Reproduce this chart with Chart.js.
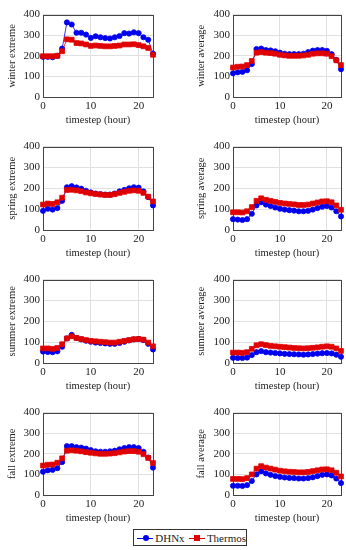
<!DOCTYPE html>
<html>
<head>
<meta charset="utf-8">
<script src="https://cdn.jsdelivr.net/npm/chart.js@4.4.0/dist/chart.umd.min.js"></script>
<style>
  body { margin: 0; background: #fff; width: 346px; height: 550px; position: relative; overflow: hidden; }
  canvas { position: absolute; }
  #legend {
    position: absolute; left: 133px; top: 529px; width: 112px; height: 15px;
    border: 1px solid #333; font: 11px "Liberation Serif", serif; color: #222;
    display: flex; align-items: center; white-space: nowrap;
  }
  .icon { position: relative; display: inline-block; width: 17px; height: 10px; margin: 0 2px 0 3px; }
  .icon .ln { position: absolute; left: 0; right: 0; top: 5px; height: 1px; }
  .icon .mk { position: absolute; left: 5.5px; top: 2px; width: 6px; height: 6px; }
</style>
</head>
<body>
<div id="legend">
  <span class="icon"><span class="ln" style="background:#0000ee"></span><span class="mk" style="background:#0000ee;border-radius:50%"></span></span>DHNx
  <span class="icon" style="margin-left:4px"><span class="ln" style="background:#e00000"></span><span class="mk" style="background:#e00000"></span></span>Thermos
</div>
<script>
const hours = [0,1,2,3,4,5,6,7,8,9,10,11,12,13,14,15,16,17,18,19,20,21,22,23];
const xTicks = [0, 10, 20];
const yTicks = [0, 100, 200, 300, 400];

const panelTitles = ["winter extreme", "winter average", "spring extreme", "spring average",
  "summer extreme", "summer average", "fall extreme", "fall average"];

const dhnxWinterExtreme = [195,195,193,200,235,362,352,312,312,303,287,295,290,286,284,290,296,310,308,314,310,290,278,210];
const thermosWinterExtreme = [198,198,198,200,222,280,278,262,260,255,248,250,248,246,246,248,250,255,255,256,252,246,238,205];
const dhnxWinterAverage = [115,120,122,130,160,233,235,228,226,222,215,210,208,208,208,210,218,225,228,228,224,208,180,135];
const thermosWinterAverage = [143,147,148,155,175,215,218,215,213,210,205,202,200,200,200,202,205,210,212,212,210,198,178,155];
const dhnxSpringExtreme = [92,102,98,105,140,205,210,204,198,188,180,175,172,170,170,175,185,192,200,205,203,185,158,118];
const thermosSpringExtreme = [122,127,125,133,155,192,193,190,186,180,176,173,170,168,168,172,178,183,188,190,188,178,160,137];
const dhnxSpringAverage = [52,50,48,52,78,118,133,122,115,108,102,98,95,93,90,90,92,98,105,112,115,108,90,65];
const thermosSpringAverage = [85,85,84,90,110,140,152,145,140,135,130,127,125,123,120,120,122,127,132,137,138,133,118,97];
const dhnxSummerExtreme = [55,53,52,56,78,118,135,120,113,107,102,98,96,94,92,92,96,102,108,113,115,110,92,65];
const thermosSummerExtreme = [70,70,68,72,90,118,128,120,115,110,106,104,102,100,98,98,102,106,110,114,115,112,98,80];
const dhnxSummerAverage = [25,24,24,26,38,52,57,52,50,48,46,44,43,42,41,40,41,43,45,47,48,46,40,30];
const thermosSummerAverage = [50,50,49,52,68,85,90,86,82,80,78,76,74,72,71,70,71,73,75,78,80,78,70,58];
const dhnxFallExtreme = [113,120,122,130,160,237,237,232,230,225,218,212,210,210,212,215,222,228,232,232,228,210,182,133];
const thermosFallExtreme = [143,147,148,157,178,215,217,215,212,208,205,202,200,200,201,203,207,211,213,213,210,198,180,155];
const dhnxFallAverage = [45,45,44,48,68,100,115,105,98,92,88,85,83,82,80,80,82,86,92,98,100,95,80,58];
const thermosFallAverage = [78,78,77,82,100,128,140,133,128,123,118,115,113,112,110,110,112,116,120,124,125,120,108,90];

const dhnxSeries = [dhnxWinterExtreme, dhnxWinterAverage, dhnxSpringExtreme, dhnxSpringAverage,
  dhnxSummerExtreme, dhnxSummerAverage, dhnxFallExtreme, dhnxFallAverage];
const thermosSeries = [thermosWinterExtreme, thermosWinterAverage, thermosSpringExtreme, thermosSpringAverage,
  thermosSummerExtreme, thermosSummerAverage, thermosFallExtreme, thermosFallAverage];

Chart.defaults.font.family = "'Liberation Serif', serif";
Chart.defaults.font.size = 10.5;
Chart.defaults.color = "#222";

const rowTops = [10, 142, 275, 408];
const rowHeights = [87, 88, 88, 87];

const frame = {
  id: "frame",
  beforeDatasetsDraw(chart) {
    const a = chart.chartArea;
    const c = chart.ctx;
    c.save();
    c.strokeStyle = "#444";
    c.lineWidth = 1;
    c.strokeRect(Math.round(a.left) + 0.5, Math.round(a.top) + 0.5,
      Math.round(a.right - a.left), Math.round(a.bottom - a.top));
    c.restore();
  },
};

for (let i = 0; i < 8; i++) {
  const row = Math.floor(i / 2);
  const col = i % 2;
  const canvas = document.createElement("canvas");
  const left = col === 0 ? 0 : 190;
  const width = col === 0 ? 173 : 156;
  const height = 5 + rowHeights[row] + 30;
  canvas.width = width;
  canvas.height = height;
  canvas.style.left = left + "px";
  canvas.style.top = rowTops[row] - 5 + "px";
  document.body.appendChild(canvas);

  new Chart(canvas, {
    type: "line",
    data: {
      labels: hours,
      datasets: [
        {
          label: "DHNx",
          data: hours.map((h, k) => ({ x: h, y: dhnxSeries[i][k] })),
          borderColor: "#0000ee",
          backgroundColor: "#0000ee",
          pointStyle: "circle",
          pointRadius: 2.6,
          borderWidth: 0.8,
          clip: false,
          order: 1,
        },
        {
          label: "Thermos",
          data: hours.map((h, k) => ({ x: h, y: thermosSeries[i][k] })),
          borderColor: "#e00000",
          backgroundColor: "#e00000",
          pointStyle: "rect",
          pointRadius: 3.4,
          borderWidth: 0.8,
          clip: false,
          order: 0,
        },
      ],
    },
    options: {
      responsive: false,
      animation: false,
      layout: { padding: { top: 5, left: 0, right: col === 0 ? 20 : 5, bottom: 0 } },
      plugins: { legend: { display: false }, tooltip: { enabled: false } },
      elements: { point: { borderWidth: 0 }, line: { tension: 0 } },
      scales: {
        x: {
          type: "linear",
          min: 0,
          max: 23,
          afterBuildTicks: (s) => { s.ticks = xTicks.map((v) => ({ value: v })); },
          afterFit: (s) => { s.height = 30; },
          grid: { color: "#e0e0e0", drawTicks: false },
          border: { display: false },
          ticks: { padding: 3, maxRotation: 0, font: { size: 11 } },
          title: { display: true, text: "timestep (hour)", padding: { top: 2, bottom: 0 } },
        },
        y: {
          min: 0,
          max: 400,
          afterBuildTicks: (s) => { s.ticks = yTicks.map((v) => ({ value: v })); },
          afterFit: (s) => { s.width = 43; },
          grid: { color: "#e0e0e0", drawTicks: false },
          border: { display: false },
          ticks: { padding: 3, font: { size: 11 } },
          title: { display: true, text: panelTitles[i], padding: { top: col === 0 ? 6 : 5, bottom: 0 } },
        },
      },
    },
    plugins: [frame],
  });
}
</script>
</body>
</html>
